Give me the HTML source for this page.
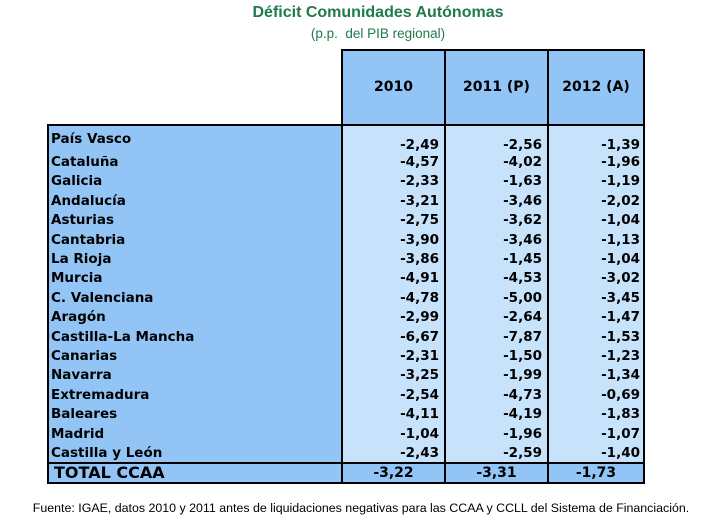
<!DOCTYPE html>
<html><head><meta charset="utf-8">
<style>
body{margin:0;width:714px;height:523px;background:#fff;position:relative;overflow:hidden;font-family:"Liberation Sans",sans-serif;}
.abs{position:absolute;}
#title{left:0;width:756px;top:4px;text-align:center;color:#1f7a4c;font-weight:bold;font-size:16px;}
#subtitle{left:0;width:756px;top:26px;text-align:center;color:#1f7a4c;font-size:13.5px;}
#foot{left:0;width:722px;top:501px;text-align:center;font-size:12.4px;color:#000;}
.cell{position:absolute;box-sizing:border-box;font-weight:bold;font-size:13.5px;color:#000;white-space:nowrap;font-family:"DejaVu Sans","Liberation Sans",sans-serif;}
</style></head>
<body>
<div id="title" class="abs">Déficit Comunidades Autónomas</div>
<div id="subtitle" class="abs">(p.p.&nbsp; del PIB regional)</div>
<div id="tbl"></div>
<div id="foot" class="abs">Fuente: IGAE, datos 2010 y 2011 antes de liquidaciones negativas para las CCAA y CCLL del Sistema de Financiación.</div>
<script>
const columns=["2010","2011 (P)","2012 (A)"];
const regions=["País Vasco","Cataluña","Galicia","Andalucía","Asturias","Cantabria","La Rioja","Murcia","C. Valenciana","Aragón","Castilla-La Mancha","Canarias"," Navarra","Extremadura","Baleares","Madrid","Castilla y León"];
const v2010=["-2,49","-4,57","-2,33","-3,21","-2,75","-3,90","-3,86","-4,91","-4,78","-2,99","-6,67","-2,31","-3,25","-2,54","-4,11","-1,04","-2,43"];
const v2011=["-2,56","-4,02","-1,63","-3,46","-3,62","-3,46","-1,45","-4,53","-5,00","-2,64","-7,87","-1,50","-1,99","-4,73","-4,19","-1,96","-2,59"];
const v2012=["-1,39","-1,96","-1,19","-2,02","-1,04","-1,13","-1,04","-3,02","-3,45","-1,47","-1,53","-1,23","-1,34","-0,69","-1,83","-1,07","-1,40"];
const totalLabel="TOTAL CCAA";
const totals=["-3,22","-3,31","-1,73"];

const T=document.getElementById('tbl');
const X0=47,XC=[341,444,547,645],Y0=49,YH=124,YB=462;
const DARK="#92c5f6",LIGHT="#c7e2fb";
function box(x,y,w,h,bg,name){const d=document.createElement('div');d.className='cell';


d.style.left=x+'px';d.style.top=y+'px';d.style.width=w+'px';d.style.height=h+'px';if(bg)d.style.background=bg;T.appendChild(d);return d;}
for(let c=0;c<3;c++){const d=box(XC[c],Y0,XC[c+1]-XC[c],YH-Y0,DARK,'column-header');
d.style.border='2px solid #000';d.style.borderRight=c==2?'2px solid #000':'none';d.style.borderBottom='none';
d.style.textAlign='center';d.style.lineHeight=(YH-Y0-2)+'px';d.style.fontSize='14px';d.textContent=columns[c];}
const lb=box(X0,YH,XC[0]-X0,YB-YH,DARK,'label-column');lb.style.border='2px solid #000';lb.style.borderBottom='none';lb.style.borderRight='none';
const cols=[v2010,v2011,v2012];
for(let c=0;c<3;c++){const d=box(XC[c],YH,XC[c+1]-XC[c],YB-YH,LIGHT,'data-column');
d.style.borderLeft='2px solid #000';d.style.borderTop='2px solid #000';if(c==2)d.style.borderRight='2px solid #000';}
const RH=19.4;
regions.forEach((r,i)=>{let cy=162+RH*(i-1);let ly=cy,vy=cy;if(i==0){ly=139;vy=145;}
const l=box(X0+4,ly-10,285,20,null,'region-label');l.textContent=r;l.style.lineHeight='20px';
for(let c=0;c<3;c++){const d=box(XC[c],vy-10,XC[c+1]-XC[c]-5,20,null,'value-cell');d.style.textAlign='right';d.style.lineHeight='20px';d.textContent=cols[c][i];}
});
const TH=22;
const tl=box(X0,YB,XC[0]-X0,TH,DARK,'total-label');tl.style.border='2px solid #000';tl.style.borderRight='none';tl.style.paddingLeft='5px';tl.style.fontSize='16px';tl.style.lineHeight=(TH-4)+'px';tl.textContent=totalLabel;
for(let c=0;c<3;c++){const d=box(XC[c],YB,XC[c+1]-XC[c],TH,DARK,'total-value');d.style.border='2px solid #000';if(c<2)d.style.borderRight='none';d.style.textAlign='center';d.style.lineHeight=(TH-4)+'px';d.style.fontSize='14px';d.textContent=totals[c];}
</script>
</body></html>
